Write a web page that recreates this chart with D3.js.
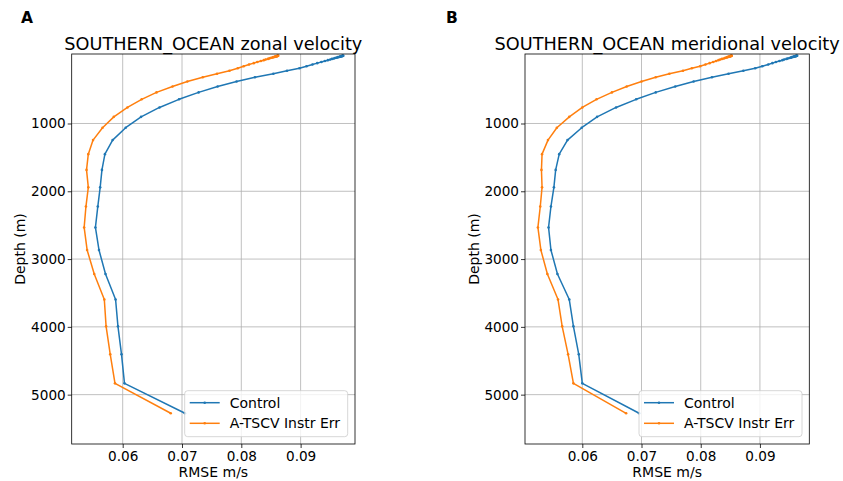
<!DOCTYPE html>
<html>
<head>
<meta charset="utf-8">
<script src="https://cdn.jsdelivr.net/npm/d3@7"></script>
<style>
	body { margin: 0; background: #fff; }
	svg { display: block; font-family: "DejaVu Sans", sans-serif; }
</style>
</head>
<body>
<div id="chart"></div>
<script>
// depth levels (m) of the model grid, last (5727.9 m) has no data
let depths = [0.494, 1.541, 2.646, 3.819, 5.078, 6.441, 7.930, 9.573, 11.405, 13.467,
	15.810, 18.496, 21.599, 25.211, 29.445, 34.434, 40.344, 47.374, 55.764, 65.807,
	77.854, 92.326, 109.729, 130.666, 155.851, 186.126, 222.475, 266.040, 318.127, 380.213,
	453.938, 541.089, 643.567, 763.333, 902.339, 1062.44, 1245.29, 1452.25, 1684.28, 1941.89,
	2225.08, 2533.34, 2865.70, 3220.82, 3597.03, 3992.48, 4405.22, 4833.29, 5274.78]

let zonalControl = [0.0972, 0.0971, 0.0971, 0.0971, 0.0970, 0.0969, 0.0969, 0.0968, 0.0967, 0.0967,
	0.0966, 0.0965, 0.0963, 0.0962, 0.0960, 0.0958, 0.0956, 0.0953, 0.0950, 0.0946,
	0.0941, 0.0935, 0.0928, 0.0920, 0.0910, 0.0898, 0.0877, 0.0854, 0.0823, 0.0792,
	0.0760, 0.0728, 0.0695, 0.0662, 0.0631, 0.0605, 0.0583, 0.0570, 0.0565, 0.0562,
	0.0558, 0.0554, 0.0560, 0.0571, 0.0588, 0.0592, 0.0598, 0.0603, 0.0705]

let zonalInstrErr = [0.0862, 0.0862, 0.0861, 0.0861, 0.0861, 0.0860, 0.0859, 0.0859, 0.0858, 0.0857,
	0.0857, 0.0856, 0.0854, 0.0853, 0.0851, 0.0849, 0.0847, 0.0845, 0.0841, 0.0838,
	0.0833, 0.0827, 0.0821, 0.0813, 0.0804, 0.0794, 0.0780, 0.0759, 0.0735, 0.0709,
	0.0684, 0.0657, 0.0632, 0.0608, 0.0585, 0.0566, 0.0550, 0.0542, 0.0539, 0.0542,
	0.0538, 0.0535, 0.0540, 0.0552, 0.0569, 0.0572, 0.0579, 0.0587, 0.0681]

let meridionalControl = [0.0963, 0.0962, 0.0962, 0.0961, 0.0961, 0.0960, 0.0960, 0.0959, 0.0958, 0.0957,
	0.0957, 0.0956, 0.0954, 0.0953, 0.0952, 0.0950, 0.0947, 0.0945, 0.0941, 0.0938,
	0.0933, 0.0927, 0.0921, 0.0914, 0.0904, 0.0892, 0.0872, 0.0847, 0.0819, 0.0788,
	0.0757, 0.0724, 0.0691, 0.0657, 0.0625, 0.0599, 0.0575, 0.0561, 0.0555, 0.0552,
	0.0547, 0.0543, 0.0547, 0.0558, 0.0578, 0.0585, 0.0594, 0.0600, 0.0696]

let meridionalInstrErr = [0.0852, 0.0852, 0.0852, 0.0851, 0.0851, 0.0850, 0.0850, 0.0849, 0.0849, 0.0848,
	0.0847, 0.0846, 0.0845, 0.0844, 0.0842, 0.0841, 0.0839, 0.0836, 0.0833, 0.0830,
	0.0826, 0.0821, 0.0815, 0.0808, 0.0799, 0.0785, 0.0770, 0.0747, 0.0724, 0.0700,
	0.0675, 0.0650, 0.0624, 0.0600, 0.0578, 0.0557, 0.0542, 0.0532, 0.0531, 0.0532,
	0.0529, 0.0525, 0.0530, 0.0541, 0.0559, 0.0566, 0.0576, 0.0585, 0.0674]

let seriesNames = ["Control", "A-TSCV Instr Err"]
let seriesColors = ["#1f77b4", "#ff7f0e"]
let xTicks = [0.06, 0.07, 0.08, 0.09]
let yTicks = [1000, 2000, 3000, 4000, 5000]
let yDomain = [-25, 5727.9]

let dims = {width: 843, height: 481, top: 54, bottom: 444}

let svg = d3.select("#chart")
	.append("svg")
	.attr("width", dims.width)
	.attr("height", dims.height)

svg.append("rect")
	.attr("width", dims.width)
	.attr("height", dims.height)
	.attr("fill", "#fff")

function Panel(opts) {
	let g = svg.append("g")
	let xScale = d3.scaleLinear().domain(opts.xDomain).range([opts.left, opts.right])
	let yScale = d3.scaleLinear().domain(yDomain).range([dims.top, dims.bottom])

	// grid
	g.selectAll("line.xgrid")
		.data(xTicks)
		.enter()
			.append("line")
			.attr("x1", d => xScale(d)).attr("x2", d => xScale(d))
			.attr("y1", dims.top).attr("y2", dims.bottom)
			.attr("stroke", "#b0b0b0").attr("stroke-width", 0.8)
	g.selectAll("line.ygrid")
		.data(yTicks)
		.enter()
			.append("line")
			.attr("x1", opts.left).attr("x2", opts.right)
			.attr("y1", d => yScale(d)).attr("y2", d => yScale(d))
			.attr("stroke", "#b0b0b0").attr("stroke-width", 0.8)

	// axes
	let xAxis = d3.axisBottom(xScale).tickValues(xTicks).tickFormat(d3.format(".2f")).tickSize(4).tickPadding(3.8)
	let yAxis = d3.axisLeft(yScale).tickValues(yTicks).tickFormat(d3.format("d")).tickSize(4).tickPadding(2)

	g.append("g")
		.attr("transform", "translate(0," + dims.bottom + ")")
		.call(xAxis)
	g.append("g")
		.attr("transform", "translate(" + opts.left + ",0)")
		.call(yAxis)
	g.selectAll(".domain").remove()
	g.selectAll(".tick line").attr("stroke", "#000").attr("stroke-width", 0.8)
	g.selectAll(".tick text")
		.attr("fill", "#000")
		.style("font-family", "'DejaVu Sans', sans-serif")
		.style("font-size", "13.6px")

	// lines
	let line = d3.line()
		.x(d => xScale(d.v))
		.y(d => yScale(d.depth))

	opts.series.forEach(function(values, i) {
		let pts = values.map((v, j) => ({v: v, depth: depths[j]}))
		g.append("path")
			.datum(pts)
			.attr("d", line)
			.attr("fill", "none")
			.attr("stroke", seriesColors[i])
			.attr("stroke-width", 1.5)
			.attr("stroke-linejoin", "round")
		g.selectAll("circle.s" + i)
			.data(pts)
			.enter()
				.append("circle")
				.attr("cx", d => xScale(d.v))
				.attr("cy", d => yScale(d.depth))
				.attr("r", 1.3)
				.attr("fill", seriesColors[i])
	})

	// spines
	g.append("rect")
		.attr("x", opts.left).attr("y", dims.top)
		.attr("width", opts.right - opts.left)
		.attr("height", dims.bottom - dims.top)
		.attr("fill", "none")
		.attr("stroke", "#000")
		.attr("stroke-width", 0.8)

	// legend
	let lw = 163, lh = 46
	let lx = opts.right - 7.3 - lw, ly = dims.bottom - 7.3 - lh
	let legend = g.append("g").attr("transform", "translate(" + lx + "," + ly + ")")
	legend.append("rect")
		.attr("width", lw).attr("height", lh)
		.attr("rx", 3)
		.attr("fill", "#fff").attr("fill-opacity", 0.8)
		.attr("stroke", "#cccccc").attr("stroke-width", 0.8)
	seriesNames.forEach(function(name, i) {
		let yy = 12 + i * 20.6
		legend.append("line")
			.attr("x1", 5).attr("x2", 35)
			.attr("y1", yy).attr("y2", yy)
			.attr("stroke", seriesColors[i]).attr("stroke-width", 1.5)
		legend.append("circle")
			.attr("cx", 20).attr("cy", yy).attr("r", 1.3)
			.attr("fill", seriesColors[i])
		legend.append("text")
			.attr("x", 45).attr("y", yy)
			.attr("dy", "0.36em")
			.style("font-size", "14px")
			.text(name)
	})

	// labels
	let cx = (opts.left + opts.right) / 2
	g.append("text")
		.attr("x", cx).attr("y", 50)
		.attr("text-anchor", "middle")
		.style("font-size", "17.7px")
		.text(opts.title)
	g.append("text")
		.attr("x", cx).attr("y", 477)
		.attr("text-anchor", "middle")
		.style("font-size", "14px")
		.text("RMSE m/s")
	g.append("text")
		.attr("transform", "translate(" + (opts.left - 46.5) + "," + ((dims.top + dims.bottom) / 2) + ") rotate(-90)")
		.attr("text-anchor", "middle")
		.style("font-size", "14px")
		.text("Depth (m)")
	g.append("text")
		.attr("x", opts.letterX).attr("y", 23)
		.style("font-size", "15.5px")
		.style("font-weight", "bold")
		.text(opts.letter)
}

new Panel({letter: "A", letterX: 21, title: "SOUTHERN_OCEAN zonal velocity",
	left: 71.7, right: 355, xDomain: [0.05140, 0.09917], series: [zonalControl, zonalInstrErr]})
new Panel({letter: "B", letterX: 446, title: "SOUTHERN_OCEAN meridional velocity",
	left: 525, right: 809.3, xDomain: [0.05032, 0.09834], series: [meridionalControl, meridionalInstrErr]})
</script>
</body>
</html>
